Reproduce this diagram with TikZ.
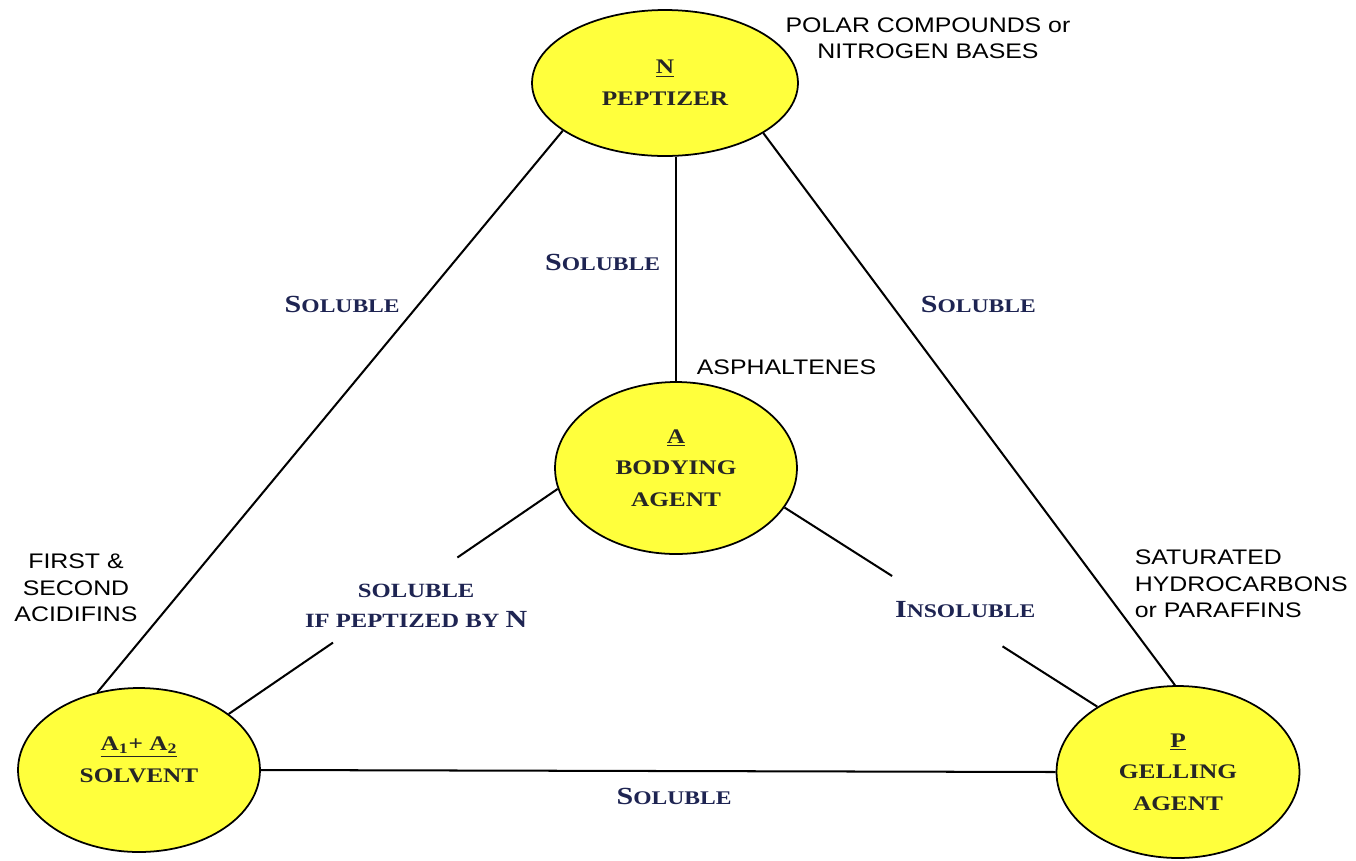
\documentclass[tikz,border=0pt]{standalone}
\usepackage{fontspec}
\setmainfont{Liberation Serif}
\newfontfamily\capfont[FakeStretch=1.22]{Liberation Serif}
\newfontfamily\notefont[FakeStretch=1.18]{Liberation Sans}
\usetikzlibrary{
  shapes.geometric,
  positioning,
  calc
}
\definecolor{gelb}{RGB}{255,255,60}
\definecolor{tinte}{RGB}{30,36,82}
\newcommand{\bigfirst}[2]{{\fontsize{14}{16}\selectfont #1}{\fontsize{11}{13}\selectfont #2}}

\begin{document}
\begin{tikzpicture}[x=0.02cm,y=-0.02cm,line width=1.15pt,
    blob/.style={ellipse,draw,fill=gelb,line width=1pt,inner sep=0pt,align=center,text=black!85,font=\capfont\bfseries\fontsize{11.8}{18}\selectfont},
    lbl/.style={text=tinte,font=\capfont\bfseries},
    note/.style={font=\notefont\fontsize{12}{15}\selectfont}]
    \useasboundingbox (0,0) rectangle (1356,860);
    \node[blob,minimum width=5.32cm,minimum height=2.92cm] (N) at (665,83) {\underline{N}\\PEPTIZER};
    \node[blob,minimum width=4.84cm,minimum height=3.44cm] (A) at (676,468) {\underline{A}\\BODYING\\AGENT};
    \node[blob,minimum width=4.84cm,minimum height=3.28cm] (S) at (139,770) {\underline{A\textsubscript{1}+ A\textsubscript{2}}\\SOLVENT\\[-6pt]\mbox{}};
    \node[blob,minimum width=4.86cm,minimum height=3.44cm] (P) at (1178,772) {\underline{P}\\GELLING\\AGENT};

    \draw (N.205) -- node[lbl,pos=0.31,left=0.24cm]{\bigfirst{S}{OLUBLE}} (S.118);
    \draw (N.south -| A.north) -- node[lbl,pos=0.47,left=0.18cm]{\bigfirst{S}{OLUBLE}} (A.north);
    \draw (N.-27) -- node[lbl,pos=0.31,right=0.46cm]{\bigfirst{S}{OLUBLE}} (P.92);
    \draw (S.east) -- node[lbl,pos=0.52,below=0.2cm]{\bigfirst{S}{OLUBLE}} (P.west);
    \draw (A.190) -- ($(A.190)!0.305!(S.32)$);
    \draw ($(A.190)!0.683!(S.32)$) -- (S.32);
    \draw (A.-20) -- ($(A.-20)!0.344!(P.141)$);
    \draw ($(A.-20)!0.697!(P.141)$) -- (P.141);

    \node[lbl,align=center,font=\capfont\bfseries\fontsize{11.5}{17}\selectfont] (pept) at ($(A.190)!0.5!(S.32)+(23,4)$) {SOLUBLE\\IF PEPTIZED BY {\fontsize{14}{16}\selectfont N}};
    \node[lbl] (insol) at ($(A.-20)!0.52!(P.141)+(18,-2)$) {\bigfirst{I}{NSOLUBLE}};

    \node[note,align=center] (polar) at (928,38) {POLAR COMPOUNDS or\\NITROGEN BASES};
    \node[note,right=0.28cm of A.north,yshift=0.28cm] (asph) {ASPHALTENES};
    \node[note,align=center] (acid) at (76,588) {FIRST \&\\SECOND\\ACIDIFINS};
    \node[note,align=left,right] (sat) at (1128,584) {SATURATED\\HYDROCARBONS\\or PARAFFINS};
  \end{tikzpicture}
\end{document}
